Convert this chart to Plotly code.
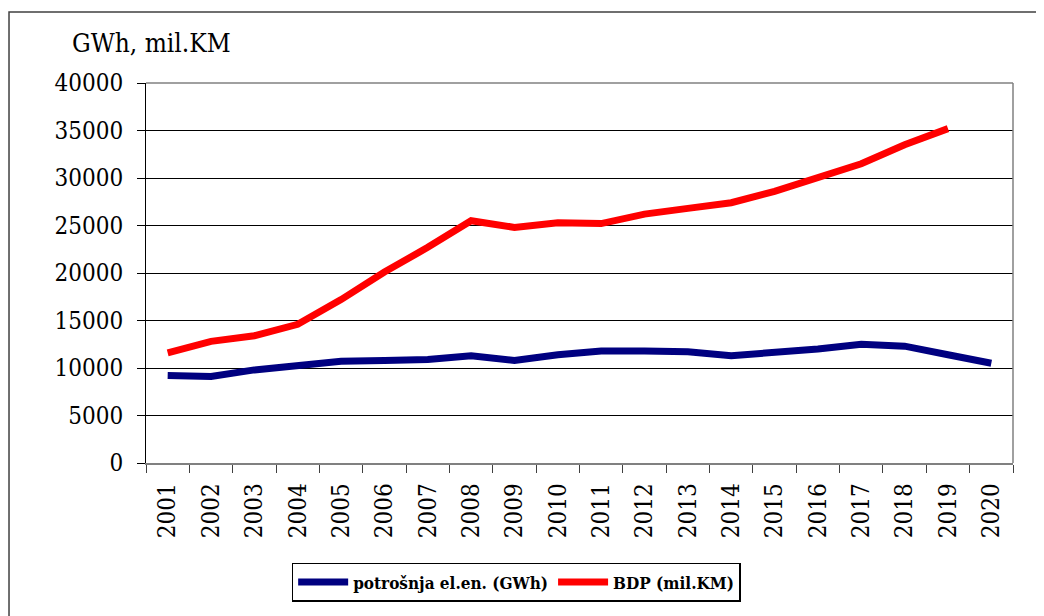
import plotly.graph_objects as go

godine = [str(g) for g in range(2001, 2021)]
potrosnja = [9200, 9100, 9800, 10200, 10700, 10800, 10900, 11300, 10800, 11400,
             11800, 11800, 11700, 11300, 11600, 12000, 12500, 12300, 11400, 10500]
bdp = [11600, 12800, 13400, 14600, 17200, 20100, 22700, 25500, 24800, 25300,
       25200, 26200, 26800, 27400, 28600, 30000, 31500, 33500, 35200, None]

font = "DejaVu Serif Condensed, DejaVu Serif"

fig = go.Figure()
fig.add_trace(go.Scatter(x=godine, y=potrosnja, mode="lines",
                         name="potrošnja el.en. (GWh)",
                         line=dict(color="#000080", width=7)))
fig.add_trace(go.Scatter(x=godine, y=bdp, mode="lines",
                         name="BDP (mil.KM)",
                         line=dict(color="#FF0000", width=7)))

# okvir oko cijelog grafikona (gornja i lijeva ivica)
fig.add_shape(type="rect", xref="paper", yref="paper",
              x0=-0.158, x1=1.2, y0=1.1868, y1=-0.6,
              line=dict(color="#404040", width=1.5), layer="below")
# desna i gornja ivica polja crtanja
fig.add_shape(type="line", xref="paper", yref="paper", x0=1, x1=1, y0=0, y1=1,
              line=dict(color="#808080", width=1.5))
fig.add_shape(type="line", xref="paper", yref="paper", x0=0, x1=1, y0=1, y1=1,
              line=dict(color="#808080", width=1.5))

fig.add_annotation(text="GWh, mil.KM", xref="paper", yref="paper",
                   x=-0.0877, y=1.105, xanchor="left", yanchor="middle",
                   showarrow=False, font=dict(family=font, size=26, color="black"))

# stranica ima marginu od 8px, pa je slika za toliko manja
fig.update_layout(
    width=1036, height=608,
    margin=dict(l=138, r=31, t=75, b=153),
    paper_bgcolor="white", plot_bgcolor="white",
    font=dict(family=font, size=24, color="black"),
    showlegend=True,
    legend=dict(orientation="h", x=0.168, y=-0.263, xanchor="left", yanchor="top",
                bordercolor="black", borderwidth=1.5, bgcolor="white",
                font=dict(family=font, size=17, color="black", weight="bold"),
                itemwidth=50, tracegroupgap=0),
)
fig.update_xaxes(type="category", tickangle=-90, tickson="boundaries",
                 ticks="outside", ticklen=8, tickcolor="#404040",
                 showline=True, linecolor="#808080", linewidth=1.5,
                 showgrid=False, range=[-0.5, 19.5], automargin=False,
                 ticklabelstandoff=9,
                 tickfont=dict(family=font, size=24))
fig.update_yaxes(range=[0, 40000], dtick=5000, tickformat="d",
                 ticks="outside", ticklen=8,
                 tickcolor="black", showline=True, linecolor="black", linewidth=1,
                 showgrid=True, gridcolor="black", gridwidth=1,
                 zeroline=False, ticklabelstandoff=9, automargin=False,
                 tickfont=dict(family=font, size=24))

fig.write_html("out.html")
